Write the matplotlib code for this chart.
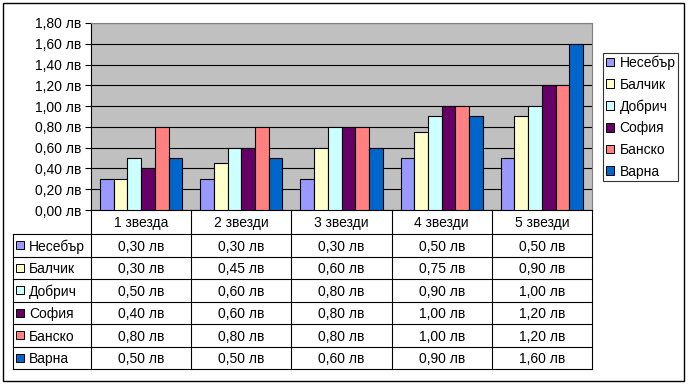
import matplotlib
matplotlib.use("Agg")
import matplotlib.pyplot as plt
from matplotlib.patches import Rectangle, Patch

plt.rcParams['font.family'] = ['Liberation Sans', 'DejaVu Sans']
plt.rcParams['font.size'] = 10

# данни
categories = ["1 звезда", "2 звезди", "3 звезди", "4 звезди", "5 звезди"]
cities = ["Несебър", "Балчик", "Добрич", "София", "Банско", "Варна"]
nesebar = [0.30, 0.30, 0.30, 0.50, 0.50]
balchik = [0.30, 0.45, 0.60, 0.75, 0.90]
dobrich = [0.50, 0.60, 0.80, 0.90, 1.00]
sofia = [0.40, 0.60, 0.80, 1.00, 1.20]
bansko = [0.80, 0.80, 0.80, 1.00, 1.20]
varna = [0.50, 0.50, 0.60, 0.90, 1.60]
series = [nesebar, balchik, dobrich, sofia, bansko, varna]
colors = ["#9999FF", "#FFFFCC", "#CCFFFF", "#660066", "#FF8080", "#0066CC"]
y_ticks = [0.0, 0.2, 0.4, 0.6, 0.8, 1.0, 1.2, 1.4, 1.6, 1.8]


def lv(v):
    return f"{v:.2f}".replace(".", ",") + " лв"


W, H = 688, 384
fig = plt.figure(figsize=(W / 100, H / 100), dpi=100)


def rect(l, t, r, b):
    return [l / W, 1 - b / H, (r - l) / W, (b - t) / H]


# рамка около целия чарт
fig.add_artist(Rectangle((2.5 / W, 1 - 380.5 / H), 681 / W, 378 / H,
                         transform=fig.transFigure, fill=False,
                         edgecolor="black", linewidth=1))

# графика
ax = fig.add_axes(rect(91, 23, 592, 210))
ax.set_facecolor("#C0C0C0")
n = len(series)
w = 0.137
for j, (vals, c) in enumerate(zip(series, colors)):
    xs = [i + (j - (n - 1) / 2) * w for i in range(len(categories))]
    ax.bar(xs, vals, width=w, color=c, edgecolor="black", linewidth=0.8,
           zorder=3)
ax.set_xlim(-0.5, len(categories) - 0.5)
ax.set_ylim(0, 1.8)
ax.set_yticks(y_ticks)
ax.set_yticklabels([lv(v) for v in y_ticks])
ax.set_xticks([])
ax.yaxis.grid(True, color="black", linewidth=0.8, zorder=0)
ax.set_axisbelow(True)
ax.tick_params(axis="y", length=4, width=0.8, pad=3, labelsize=10)
for s in ["top", "right"]:
    ax.spines[s].set_color("#808080")
for s in ["left", "bottom"]:
    ax.spines[s].set_color("black")
    ax.spines[s].set_linewidth(0.8)

# таблица с данни
tb = fig.add_axes(rect(91, 210, 592, 369))
hdr = 1.07  # височина на заглавния ред (в редове)
n_rows = len(cities)
tb.set_xlim(-0.5, len(categories) - 0.5)
tb.set_ylim(hdr + n_rows, 0)
tb.axis("off")
unit = 501 / len(categories)  # пиксели на категория
left_edge = -0.5 - 78 / unit
lc = dict(color="black", linewidth=0.8, clip_on=False)

for k in range(len(categories) + 1):
    tb.plot([k - 0.5, k - 0.5], [0, hdr + n_rows], **lc)
for r in range(n_rows + 1):
    tb.plot([left_edge, len(categories) - 0.5], [hdr + r, hdr + r], **lc)
tb.plot([left_edge, left_edge], [hdr, hdr + n_rows], **lc)

for i, cat in enumerate(categories):
    tb.text(i, hdr / 2 + 0.03, cat, ha="center", va="center", fontsize=10)

for r, (name, vals, c) in enumerate(zip(cities, series, colors)):
    y = hdr + r + 0.5
    tb.plot([-0.5 - 71 / unit], [y], marker="s", markersize=5.6,
            markerfacecolor=c, markeredgecolor="black",
            markeredgewidth=0.7, clip_on=False)
    tb.text(-0.5 - 62 / unit, y + 0.06, name, ha="left", va="center",
            fontsize=10)
    for i, v in enumerate(vals):
        tb.text(i, y + 0.06, lv(v), ha="center", va="center", fontsize=10)

# легенда
handles = [Patch(facecolor=c, edgecolor="black", linewidth=0.7) for c in colors]
leg = fig.legend(handles, cities, loc="center left",
                 bbox_to_anchor=(603 / W, 1 - 117 / H), fontsize=10,
                 frameon=True, fancybox=False, edgecolor="black",
                 handlelength=0.6, handleheight=0.6, handletextpad=0.4,
                 labelspacing=0.55, borderpad=0.2, borderaxespad=0)
leg.get_frame().set_linewidth(0.8)

fig.savefig("out.png", dpi=100)
